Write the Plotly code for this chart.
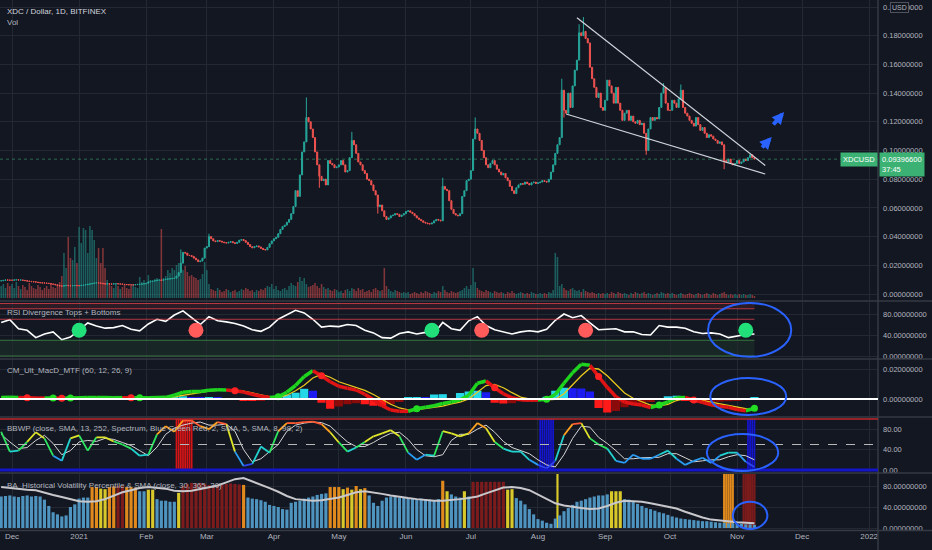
import pandas as pd
import plotly.graph_objects as go

# ---------------------------------------------------------------- data
# daily XDC/USD closes from 2020-11-26
start_day = "2020-11-26"
closes = [
    0.0092, 0.0095, 0.0098, 0.0097, 0.0096,  # Nov 26-30
    # Dec
    0.0096, 0.0098, 0.0099, 0.0097, 0.0098, 0.0095, 0.0093, 0.0090, 0.0088, 0.0086,
    0.0085, 0.0083, 0.0080, 0.0078, 0.0077, 0.0076, 0.0075, 0.0073, 0.0070, 0.0068,
    0.0064, 0.0060, 0.0056, 0.0055, 0.0058, 0.0060, 0.0058, 0.0057, 0.0058, 0.0059, 0.0058,
    # Jan
    0.0058, 0.0060, 0.0062, 0.0065, 0.0068, 0.0070, 0.0073, 0.0076, 0.0078, 0.0077,
    0.0075, 0.0072, 0.0070, 0.0071, 0.0070, 0.0069, 0.0071, 0.0072, 0.0070, 0.0070,
    0.0068, 0.0066, 0.0065, 0.0064, 0.0063, 0.0063, 0.0065, 0.0067, 0.0068, 0.0070, 0.0071,
    # Feb
    0.0075, 0.0084, 0.0088, 0.0090, 0.0093, 0.0096, 0.0098, 0.0095, 0.0101, 0.0103,
    0.0105, 0.0106, 0.0108, 0.0110, 0.0125, 0.0150, 0.0215, 0.0290, 0.0285, 0.0270,
    0.0268, 0.0262, 0.0250, 0.0238, 0.0225, 0.0230, 0.0250, 0.0320,
    # Mar
    0.0330, 0.0400, 0.0385, 0.0370, 0.0365, 0.0372, 0.0368, 0.0362, 0.0358, 0.0355,
    0.0360, 0.0365, 0.0358, 0.0352, 0.0360, 0.0375, 0.0380, 0.0372, 0.0360, 0.0345,
    0.0330, 0.0322, 0.0330, 0.0335, 0.0328, 0.0318, 0.0310, 0.0307, 0.0325, 0.0350, 0.0370,
    # Apr
    0.0385, 0.0395, 0.0420, 0.0450, 0.0470, 0.0480, 0.0500, 0.0520, 0.0560, 0.0610,
    0.0720, 0.0680, 0.0830, 0.0990, 0.1060, 0.1230, 0.1200, 0.1150, 0.1090, 0.0990,
    0.0900, 0.0820, 0.0790, 0.0800, 0.0760, 0.0930, 0.0910, 0.0900, 0.0880, 0.0885,
    # May
    0.0900, 0.0930, 0.0900, 0.0850, 0.0860, 0.0950, 0.1070, 0.1040, 0.0980, 0.0920,
    0.0900, 0.0860, 0.0840, 0.0800, 0.0790, 0.0760, 0.0720, 0.0690, 0.0610, 0.0620,
    0.0580, 0.0540, 0.0520, 0.0530, 0.0545, 0.0550, 0.0560, 0.0555, 0.0540, 0.0550, 0.0560,
    # Jun
    0.0575, 0.0580, 0.0570, 0.0560, 0.0545, 0.0530, 0.0520, 0.0510, 0.0500, 0.0495,
    0.0490, 0.0488, 0.0495, 0.0510, 0.0520, 0.0515, 0.0510, 0.0750, 0.0730, 0.0720,
    0.0650, 0.0590, 0.0560, 0.0550, 0.0545, 0.0560, 0.0680, 0.0720, 0.0790, 0.0800,
    # Jul
    0.0860, 0.1080, 0.1150, 0.1120, 0.1070, 0.1000, 0.0950, 0.0900, 0.0880, 0.0910,
    0.0930, 0.0900, 0.0870, 0.0850, 0.0830, 0.0840, 0.0810, 0.0790, 0.0750, 0.0720,
    0.0700, 0.0740, 0.0760, 0.0770, 0.0765, 0.0780, 0.0770, 0.0760, 0.0775, 0.0780, 0.0770,
    # Aug
    0.0775, 0.0780, 0.0790, 0.0785, 0.0780, 0.0800, 0.0850, 0.0900, 0.0980, 0.1040,
    0.1090, 0.1420, 0.1280, 0.1260, 0.1400, 0.1300, 0.1450, 0.1560, 0.1630, 0.1820,
    0.1800, 0.1830, 0.1780, 0.1750, 0.1580, 0.1500, 0.1440, 0.1370, 0.1400, 0.1300, 0.1280,
    # Sep
    0.1350, 0.1490, 0.1450, 0.1400, 0.1330, 0.1440, 0.1330, 0.1280, 0.1210, 0.1260,
    0.1280, 0.1210, 0.1240, 0.1200, 0.1190, 0.1210, 0.1180, 0.1190, 0.1120, 0.1000,
    0.1150, 0.1230, 0.1210, 0.1230, 0.1220, 0.1300, 0.1400, 0.1440, 0.1330, 0.1280,
    # Oct
    0.1280, 0.1350, 0.1330, 0.1300, 0.1360, 0.1420, 0.1300, 0.1260, 0.1240, 0.1210,
    0.1190, 0.1170, 0.1230, 0.1180, 0.1140, 0.1160, 0.1120, 0.1090, 0.1110, 0.1100,
    0.1080, 0.1070, 0.1050, 0.1060, 0.1040, 0.0930, 0.0920, 0.0940, 0.0910, 0.0900, 0.0910,
    # Nov
    0.0930, 0.0910, 0.0920, 0.0940, 0.0930, 0.0950, 0.0970, 0.0950, 0.0940,
]
wick_highs = {"2021-02-17": 0.031, "2021-03-02": 0.042, "2021-04-16": 0.137,
              "2021-05-07": 0.113, "2021-06-18": 0.081, "2021-07-03": 0.123,
              "2021-08-12": 0.150, "2021-08-20": 0.188, "2021-08-22": 0.193,
              "2021-09-28": 0.147, "2021-10-06": 0.146}
wick_lows = {"2021-04-22": 0.074, "2021-05-19": 0.056, "2021-08-13": 0.123,
             "2021-09-20": 0.097, "2021-10-26": 0.087}

# daily volume (millions, rough)
volumes = [
    12, 14, 10, 15, 12,
    14, 10, 16, 12, 9, 13, 11, 8, 15, 12, 10, 9, 13, 11, 8, 10, 12, 9, 14, 11,
    10, 13, 16, 22, 45, 30, 61, 40, 38, 51, 35,
    71, 55, 70, 68, 45, 72, 68, 58, 40, 50, 35, 50, 30, 18, 15, 12, 10, 14, 12, 9,
    11, 13, 10, 9, 12, 14, 11, 10, 21, 16, 18,
    15, 23, 18, 16, 19, 20, 17, 69, 20, 22, 28, 25, 30, 28, 33, 35, 30, 28, 32, 26,
    22, 23, 21, 20, 18, 19, 24, 36,
    28, 14, 9, 8, 7, 10, 8, 6, 7, 9, 8, 6, 7, 8, 6, 7, 9, 8, 10, 9,
    7, 8, 6, 8, 7, 9, 8, 10, 12, 11, 14,
    9, 12, 8, 7, 9, 10, 8, 12, 15, 13, 12, 16, 21, 17, 20, 14, 11, 12, 13, 15,
    12, 10, 14, 11, 9, 10, 8, 7, 9, 8,
    6, 7, 5, 8, 9, 7, 10, 9, 7, 10, 8, 9, 6, 7, 8, 6, 9, 10, 8, 7,
    8, 30, 12, 9, 7, 6, 8, 7, 6, 5, 6,
    5, 6, 4, 5, 6, 5, 4, 6, 5, 7, 6, 5, 4, 6, 5, 7, 6, 12, 8, 6,
    5, 7, 6, 5, 6, 7, 8, 10, 12, 9,
    13, 30, 16, 10, 8, 7, 6, 8, 7, 6, 5, 7, 6, 5, 6, 5, 4, 6, 5, 7,
    5, 4, 5, 6, 5, 4, 5, 4, 6, 5, 4,
    4, 5, 4, 5, 4, 6, 5, 8, 45, 41, 12, 14, 10, 8, 7, 9, 10, 8, 7, 8,
    6, 9, 7, 6, 5, 6, 5, 4, 5, 4, 5,
    4, 5, 4, 6, 5, 4, 6, 5, 4, 5, 4, 3, 5, 4, 6, 5, 4, 5, 6, 4,
    5, 4, 3, 4, 5, 4, 6, 5, 4, 5,
    4, 5, 4, 3, 4, 5, 4, 3, 4, 5, 4, 3, 4, 5, 4, 3, 4, 5, 4, 3,
    5, 4, 3, 4, 5, 6, 4, 3, 4, 3, 4,
    3, 4, 3, 4, 3, 3, 4, 3, 2,
]
last_price = 0.093966
countdown = "37:45"

# indicator readings, one every 4 days from 2020-11-26
ind_start = "2020-11-26"
rsi = [64, 69, 52, 49, 35, 42, 46, 31, 36, 49, 63, 57, 53, 54, 58, 51, 48, 61, 70, 66,
       78, 86, 73, 60, 75, 67, 65, 62, 57, 50, 47, 55, 70, 79, 87, 82, 70, 55, 57, 56,
       60, 58, 49, 44, 35, 34, 43, 46, 42, 45, 43, 64, 52, 49, 67, 75, 58, 50, 46, 42,
       46, 48, 46, 51, 68, 80, 73, 77, 63, 50, 51, 52, 46, 46, 41, 40, 58, 55, 55, 53,
       46, 43, 44, 42, 35, 38, 41, 42]
div_dates = ["2021-01-01", "2021-02-24", "2021-06-13", "2021-07-06", "2021-08-23", "2021-11-05"]
div_kind = ["bull", "bear", "bull", "bear", "bear", "bull"]
div_level = 49

macd = [0.0010, 0.0011, 0.0010, 0.0008, 0.0006, 0.0006, 0.0007, 0.0005, 0.0006, 0.0008,
        0.0010, 0.0010, 0.0010, 0.0009, 0.0009, 0.0008, 0.0008, 0.0009, 0.0010, 0.0011,
        0.0025, 0.0045, 0.0050, 0.0050, 0.0058, 0.0062, 0.0060, 0.0055, 0.0046, 0.0032,
        0.0018, 0.0010, 0.0015, 0.0045, 0.0090, 0.0150, 0.0188, 0.0155, 0.0115, 0.0085,
        0.0072, 0.0060, 0.0032, -0.0005, -0.0045, -0.0073, -0.0082, -0.0082, -0.0065, -0.0055,
        -0.0045, -0.0030, -0.0020, -0.0005, 0.0025, 0.0105, 0.0120, 0.0075, 0.0035, 0.0008,
        -0.0005, -0.0008, -0.0007, -0.0002, 0.0030, 0.0105, 0.0175, 0.0232, 0.0225, 0.0150,
        0.0078, 0.0015, -0.0020, -0.0033, -0.0040, -0.0057, -0.0040, -0.0020, 0.0008, 0.0010,
        -0.0007, -0.0022, -0.0038, -0.0048, -0.0055, -0.0070, -0.0078, -0.0062]
macd_signal = [0.0008, 0.0009, 0.0009, 0.0009, 0.0008, 0.0007, 0.0007, 0.0006, 0.0006, 0.0006,
               0.0007, 0.0008, 0.0009, 0.0009, 0.0009, 0.0009, 0.0008, 0.0008, 0.0009, 0.0010,
               0.0015, 0.0025, 0.0036, 0.0045, 0.0053, 0.0058, 0.0060, 0.0058, 0.0052, 0.0042,
               0.0028, 0.0016, 0.0010, 0.0025, 0.0055, 0.0092, 0.0140, 0.0165, 0.0145, 0.0115,
               0.0095, 0.0078, 0.0058, 0.0030, -0.0005, -0.0035, -0.0060, -0.0072, -0.0070, -0.0064,
               -0.0057, -0.0048, -0.0032, -0.0020, 0.0000, 0.0045, 0.0090, 0.0098, 0.0075, 0.0042,
               0.0012, 0.0000, -0.0005, -0.0005, -0.0002, 0.0035, 0.0095, 0.0155, 0.0205, 0.0200,
               0.0155, 0.0095, 0.0040, 0.0005, -0.0018, -0.0040, -0.0045, -0.0035, -0.0010, 0.0002,
               0.0001, -0.0010, -0.0023, -0.0033, -0.0042, -0.0053, -0.0065, -0.0070]
macd_hist = [0.0003, 0.0003, 0.0002, -0.0002, -0.0002, -0.0001, 0.0001, -0.0001, 0.0001, 0.0003,
             0.0004, 0.0002, 0.0001, 0.0000, 0.0000, -0.0001, 0.0000, 0.0001, 0.0002, 0.0004,
             0.0012, 0.0018, 0.0013, 0.0008, 0.0010, 0.0007, 0.0002, -0.0004, -0.0008, -0.0012,
             -0.0010, -0.0004, 0.0015, 0.0030, 0.0042, 0.0068, 0.0055, -0.0025, -0.0065, -0.0050,
             -0.0035, -0.0028, -0.0035, -0.0045, -0.0048, -0.0035, -0.0020, 0.0008, 0.0012, 0.0010,
             0.0030, 0.0032, -0.0006, 0.0040, 0.0050, 0.0055, 0.0045, -0.0025, -0.0030, -0.0028,
             -0.0015, -0.0008, 0.0002, 0.0015, 0.0055, 0.0075, 0.0072, 0.0070, 0.0050, -0.0060,
             -0.0090, -0.0080, -0.0055, -0.0035, -0.0030, -0.0020, 0.0004, 0.0018, 0.0022, -0.0008,
             -0.0020, -0.0022, -0.0020, -0.0018, -0.0015, -0.0012, 0.0004, 0.0010]

bbwp = [75, 36, 38, 55, 74, 62, 28, 18, 62, 68, 38, 64, 64, 56, 50, 42, 28, 30, 70, 86,
        75, 97, 97, 86, 80, 94, 90, 36, 8, 12, 46, 34, 76, 92, 92, 94, 95, 90, 74, 54,
        36, 44, 55, 66, 72, 78, 66, 34, 20, 30, 28, 76, 72, 66, 72, 92, 82, 55, 42, 36,
        36, 20, 10, 3, 18, 68, 90, 92, 62, 50, 42, 18, 14, 30, 22, 22, 30, 38, 22, 10,
        18, 24, 14, 28, 34, 34, 16, 6]
bbwp_ma = [70, 55, 42, 44, 58, 68, 52, 30, 38, 55, 58, 56, 62, 60, 54, 48, 38, 28, 45, 70,
           82, 88, 92, 94, 88, 88, 90, 76, 40, 16, 22, 36, 50, 76, 88, 92, 94, 93, 86, 70,
           55, 46, 46, 54, 64, 72, 74, 60, 40, 28, 26, 30, 58, 70, 70, 80, 88, 74, 56, 44,
           38, 32, 20, 10, 6, 30, 62, 86, 84, 64, 52, 38, 22, 22, 24, 24, 25, 32, 32, 24,
           16, 18, 20, 20, 26, 30, 28, 20]
bbwp_high_spans = [("2021-02-15", "2021-02-22")]
bbwp_low_spans = [("2021-08-02", "2021-08-08"), ("2021-11-06", "2021-11-09")]

hvp_ma = [78, 76, 74, 73, 72, 67, 63, 59, 55, 51, 50, 51, 55, 62, 68, 72, 76, 78, 77, 75,
          71, 70, 71, 74, 78, 81, 87, 93, 95, 89, 82, 76, 69, 61, 55, 53, 52, 53, 55, 58,
          63, 68, 70, 68, 65, 62, 59, 57, 55, 53, 52, 52, 53, 55, 57, 60, 66, 72, 77, 78,
          76, 72, 64, 55, 47, 43, 40, 38, 36, 37, 42, 48, 52, 51, 50, 47, 44, 41, 37, 31,
          25, 20, 16, 14, 12, 11, 10, 9]

# historical volatility percentile, one bar every 2 days from 2020-11-26
hvp_start = "2020-11-26"
hvp = [60, 61, 62, 60, 59, 61, 62, 60, 61, 60, 54, 42, 30, 26, 22, 24, 40, 45, 56, 58,
       58, 78, 78, 75, 74, 78, 79, 80, 80, 78, 78, 77, 70, 70, 73, 73, 55, 52, 52, 50,
       50, 67, 80, 84, 86, 85, 86, 84, 82, 80, 80, 82, 84, 85, 84, 83, 82, 58, 56, 55,
       53, 50, 44, 42, 40, 36, 35, 48, 50, 52, 56, 58, 60, 63, 65, 66, 78, 78, 78, 74,
       77, 73, 80, 74, 76, 62, 48, 42, 52, 58, 60, 60, 58, 58, 57, 56, 55, 56, 55, 54,
       53, 55, 90, 70, 64, 60, 58, 70, 60, 88, 88, 88, 88, 88, 88, 88, 88, 73, 74, 57,
       52, 45, 36, 26, 17, 14, 10, 8, 18, 24, 32, 38, 44, 50, 52, 55, 58, 60, 62, 62,
       64, 70, 70, 70, 55, 54, 50, 46, 42, 38, 36, 33, 30, 28, 25, 22, 20, 18, 17, 16,
       15, 14, 13, 13, 12, 11, 10, 10, 9, 9, 8, 8, 7, 7, 6]
hvp_level_runs = [("low", 21), ("high", 2), ("mid", 2), ("high", 2), ("top", 2), ("high", 3),
                  ("low", 2), ("mid", 2), ("low", 5), ("mid", 1), ("top", 14), ("high", 1),
                  ("low", 19), ("high", 3), ("mid", 1), ("high", 1), ("mid", 1), ("high", 1),
                  ("mid", 1), ("high", 1), ("low", 17), ("high", 1), ("mid", 1), ("low", 3),
                  ("mid", 1), ("low", 1), ("top", 8), ("mid", 2), ("low", 22), ("mid", 3),
                  ("low", 31)]
hvp_flags = [("2021-08-10", "2021-08-10", "mid"), ("2021-10-26", "2021-10-30", "high"),
             ("2021-11-04", "2021-11-09", "top")]

# hand-drawn wedge lines on the price pane
wedge_upper = (["2021-08-19", "2021-11-14"], [0.1925, 0.0895])
wedge_lower = (["2021-08-14", "2021-11-14"], [0.1254, 0.0836])

month_ticks = pd.date_range("2020-12-01", "2022-01-01", freq="MS")
month_text = ["Dec", "2021", "Feb", "Mar", "Apr", "May", "Jun", "Jul", "Aug", "Sep",
              "Oct", "Nov", "Dec", "2022"]

# ---------------------------------------------------------------- style
W, H = 932, 550
PLOT_R = 878
BG = "#131722"
GRID = "#242833"
SEP = "#363a45"
TXT = "#b2b5be"
FONT = "Liberation Sans"
UP, DN = "#26a69a", "#ef5350"
BLUE = "#2962ff"
GREEN = "#3bb273"
DAY = 86400000
x_range = ["2020-11-25 11:00", "2022-01-05 02:00"]


def py(px):
    return 1 - px / H


def rng(px_top, px_bot, px_zero, ppu):
    return [(px_zero - px_bot) / ppu, (px_zero - px_top) / ppu]


r_main = rng(0, 300, 294, 1435)
r_vol = rng(0, 300, 298, 1.0)
r_rsi = rng(302, 358, 356, 0.525)
r_macd = rng(360, 416, 399, 1500)
r_bbwp = rng(418, 472, 470, 0.51)
r_hvp = rng(474, 530, 528, 0.525)

days = pd.date_range(start_day, periods=len(closes), freq="D")
opens = [closes[0]] + closes[:-1]
highs = [max(o, c) for o, c in zip(opens, closes)]
lows = [min(o, c) for o, c in zip(opens, closes)]
for d, v in wick_highs.items():
    i = days.get_loc(pd.Timestamp(d))
    highs[i] = max(highs[i], v)
for d, v in wick_lows.items():
    i = days.get_loc(pd.Timestamp(d))
    lows[i] = min(lows[i], v)

ind_x = pd.date_range(ind_start, periods=len(rsi), freq="4D")
hvp_x = pd.date_range(hvp_start, periods=len(hvp), freq="2D")

fig = go.Figure()

# volume (base axis, so candles sit above it)
vol_cols = ["rgba(38,166,154,0.5)" if c >= o else "rgba(239,83,80,0.5)"
            for o, c in zip(opens, closes)]
fig.add_trace(go.Bar(x=days, y=volumes, marker=dict(color=vol_cols, line=dict(width=0)),
                     width=0.72 * DAY, xaxis="x", yaxis="y", hoverinfo="skip"))

fig.add_trace(go.Candlestick(
    x=days, open=opens, high=highs, low=lows, close=closes,
    increasing=dict(line=dict(color=UP, width=1), fillcolor=UP),
    decreasing=dict(line=dict(color=DN, width=1), fillcolor=DN),
    whiskerwidth=0, xaxis="x", yaxis="y6", hoverinfo="skip"))

# RSI pane
fig.add_trace(go.Scatter(x=ind_x, y=rsi, mode="lines", line=dict(color="#ffffff", width=1.6),
                         xaxis="x2", yaxis="y2", hoverinfo="skip"))
fig.add_trace(go.Scatter(
    x=div_dates, y=[div_level] * len(div_dates), mode="markers",
    marker=dict(size=15, color=["#21e07a" if k == "bull" else "#ff5b5b" for k in div_kind]),
    xaxis="x2", yaxis="y2", hoverinfo="skip"))


def segments(xs, ys, keys):
    out = {}
    for i in range(1, len(xs)):
        sx, sy = out.setdefault(keys[i], ([], []))
        sx += [xs[i - 1], xs[i], None]
        sy += [ys[i - 1], ys[i], None]
    return out


# MACD pane
hist_cols = []
for i, h in enumerate(macd_hist):
    prev = macd_hist[i - 1] if i else 0
    if h >= 0:
        hist_cols.append("#26d7e8" if h >= prev else "#1c1cf0")
    else:
        hist_cols.append("#ff1a1a" if h < prev else "#8b0a0a")
fig.add_trace(go.Bar(x=ind_x, y=macd_hist, marker=dict(color=hist_cols, line=dict(width=0)),
                     width=3.8 * DAY, xaxis="x3", yaxis="y3", hoverinfo="skip"))
fig.add_trace(go.Scatter(x=ind_x, y=macd_signal, mode="lines", line=dict(color="#e8c81e", width=1.3),
                         xaxis="x3", yaxis="y3", hoverinfo="skip"))
state = ["up" if m >= s else "dn" for m, s in zip(macd, macd_signal)]
for k, (sx, sy) in segments(list(ind_x), macd, state).items():
    fig.add_trace(go.Scatter(x=sx, y=sy, mode="lines",
                             line=dict(color="#1ed41e" if k == "up" else "#e01414", width=3.5),
                             xaxis="x3", yaxis="y3", hoverinfo="skip"))
cross = [i for i in range(1, len(state)) if state[i] != state[i - 1]]
fig.add_trace(go.Scatter(
    x=[ind_x[i] for i in cross], y=[macd[i] for i in cross], mode="markers",
    marker=dict(size=7, color=["#22dd22" if state[i] == "up" else "#ff2222" for i in cross]),
    xaxis="x3", yaxis="y3", hoverinfo="skip"))

# BBWP pane
for spans, col in ((bbwp_high_spans, "rgba(235,20,20,0.9)"), (bbwp_low_spans, "rgba(20,20,225,0.9)")):
    bx = [d for a, b in spans for d in pd.date_range(a, b, freq="D")]
    fig.add_trace(go.Bar(x=bx, y=[100] * len(bx), marker=dict(color=col, line=dict(width=0)),
                         width=0.8 * DAY, xaxis="x4", yaxis="y4", hoverinfo="skip"))
fig.add_trace(go.Scatter(x=ind_x, y=bbwp_ma, mode="lines", line=dict(color="#d6d6d6", width=1),
                         xaxis="x4", yaxis="y4", hoverinfo="skip"))


def spectrum(v):
    if v < 12:
        return "#2d46f0"
    if v < 28:
        return "#2a9df4"
    if v < 44:
        return "#22d3cf"
    if v < 60:
        return "#2ee860"
    if v < 78:
        return "#dfe52b"
    if v < 90:
        return "#ffa21f"
    return "#ff5a33"


bins = ["#"] + [spectrum((bbwp[i - 1] + bbwp[i]) / 2) for i in range(1, len(bbwp))]
for col, (sx, sy) in segments(list(ind_x), bbwp, bins).items():
    fig.add_trace(go.Scatter(x=sx, y=sy, mode="lines", line=dict(color=col, width=1.8),
                             xaxis="x4", yaxis="y4", hoverinfo="skip"))

# HVP pane
level_col = {"low": "#4f93bf", "mid": "#d9c82a", "high": "#e0891c", "top": "#7c1b1b"}
levels = [lv for lv, n in hvp_level_runs for _ in range(n)]
fx, fc = [], []
for a, b, lv in hvp_flags:
    for d in pd.date_range(a, b, freq="D"):
        fx.append(d)
        fc.append(level_col[lv])
fig.add_trace(go.Bar(x=fx, y=[r_hvp[1]] * len(fx), marker=dict(color=fc, line=dict(width=0)),
                     width=1.0 * DAY, xaxis="x5", yaxis="y5", hoverinfo="skip"))
fig.add_trace(go.Bar(x=hvp_x, y=hvp, marker=dict(color=[level_col[l] for l in levels], line=dict(width=0)),
                     width=1.45 * DAY, xaxis="x5", yaxis="y5", hoverinfo="skip"))
fig.add_trace(go.Scatter(x=ind_x, y=hvp_ma, mode="lines", line=dict(color="#c8c8cc", width=2),
                         xaxis="x5", yaxis="y5", hoverinfo="skip"))

# ---------------------------------------------------------------- layout
tick_font = dict(family=FONT, size=7.5, color=TXT)
xbase = dict(type="date", range=x_range, domain=[0, PLOT_R / W], tickvals=month_ticks,
             ticktext=month_text, showgrid=True, gridcolor=GRID, zeroline=False,
             showticklabels=False, showline=False, ticks="", automargin=False,
             tickfont=dict(family=FONT, size=8, color=TXT))
ybase = dict(side="right", showgrid=True, gridcolor=GRID, zeroline=False, showline=False,
             ticks="", automargin=False, tickfont=tick_font, ticklabelstandoff=4)

layout = dict(
    width=W, height=H, template="none", paper_bgcolor=BG, plot_bgcolor=BG,
    margin=dict(l=0, r=0, t=0, b=0), showlegend=False, barmode="overlay",
    font=dict(family=FONT, color=TXT),
    xaxis=dict(xbase, anchor="y", rangeslider=dict(visible=False)),
    yaxis=dict(domain=[py(300), 1], range=r_vol, visible=False, fixedrange=True),
    yaxis6=dict(ybase, overlaying="y", anchor="x", range=r_main,
                tickvals=[i * 0.02 for i in range(11)], tickformat=".8f"),
    yaxis2=dict(ybase, anchor="x2", domain=[py(358), py(302)], range=r_rsi,
                tickvals=[0, 40, 80], tickformat=".8f"),
    yaxis3=dict(ybase, anchor="x3", domain=[py(416), py(360)], range=r_macd,
                tickvals=[0, 0.02], tickformat=".8f"),
    yaxis4=dict(ybase, anchor="x4", domain=[py(472), py(418)], range=r_bbwp,
                tickvals=[0, 40, 80], tickformat=".2f", ticksuffix="%"),
    yaxis5=dict(ybase, anchor="x5", domain=[py(530), py(474)], range=r_hvp,
                tickvals=[0, 40, 80], tickformat=".8f"),
)
for n in range(2, 6):
    layout[f"xaxis{n}"] = dict(xbase, anchor=f"y{n}", matches="x", showticklabels=(n == 5))
fig.update_layout(**layout)

shapes = []
xr = PLOT_R / W
# pane separators and price-scale border
for px in (301, 359, 417, 473, 530.5):
    shapes.append(dict(type="line", xref="paper", yref="paper", x0=0, x1=1, y0=py(px), y1=py(px),
                       line=dict(color=SEP, width=1.5)))
shapes.append(dict(type="line", xref="paper", yref="paper", x0=xr, x1=xr, y0=0, y1=1,
                   line=dict(color=SEP, width=1.5)))
# last price line
shapes.append(dict(type="line", xref="paper", yref="y6", x0=0, x1=xr, y0=last_price, y1=last_price,
                   line=dict(color="rgba(59,178,115,0.55)", width=1, dash="dot")))
# wedge
for xs, ys in (wedge_upper, wedge_lower):
    shapes.append(dict(type="line", xref="x", yref="y6", x0=xs[0], x1=xs[1], y0=ys[0], y1=ys[1],
                       line=dict(color="#d1d4dc", width=1.2)))
# RSI bands
end = days[-1]
shapes.append(dict(type="rect", xref="x2", yref="y2", x0=x_range[0], x1=end, y0=90, y1=100,
                   fillcolor="rgba(242,54,69,0.12)", line=dict(width=0), layer="below"))
shapes.append(dict(type="rect", xref="x2", yref="y2", x0=x_range[0], x1=end, y0=0, y1=30,
                   fillcolor="rgba(76,175,80,0.10)", line=dict(width=0), layer="below"))
for lvl, col in ((100, "rgba(242,70,80,0.7)"), (90, "rgba(242,70,80,0.7)"), (70, "rgba(242,70,80,0.7)"),
                 (30, "rgba(76,175,80,0.6)"), (0, "rgba(76,175,80,0.6)")):
    shapes.append(dict(type="line", xref="x2", yref="y2", x0=x_range[0], x1=end, y0=lvl, y1=lvl,
                       line=dict(color=col, width=1)))
# MACD zero line
shapes.append(dict(type="line", xref="paper", yref="y3", x0=0, x1=xr, y0=0, y1=0,
                   line=dict(color="#ffffff", width=2)))
# BBWP guide lines
shapes.append(dict(type="line", xref="paper", yref="y4", x0=0, x1=xr, y0=100, y1=100,
                   line=dict(color="#c0282d", width=1.5)))
shapes.append(dict(type="line", xref="paper", yref="y4", x0=0, x1=xr, y0=50, y1=50,
                   line=dict(color="#b8b8b8", width=1, dash="dash")))
shapes.append(dict(type="line", xref="paper", yref="y4", x0=0, x1=xr, y0=0, y1=0,
                   line=dict(color="#1414c8", width=3)))
# hand-drawn circles (kept inside their panes)
for xa, ya, x0, x1, y0, y1 in (
        ("x2", "y2", "2021-10-18 14:00", "2021-11-26", -1.5, 101),
        ("x3", "y3", "2021-10-19 14:00", "2021-11-23 17:00", -0.0106, 0.014),
        ("x4", "y4", "2021-10-18", "2021-11-20", -1.8, 70.6),
        ("x5", "y5", "2021-10-30", "2021-11-15", -1.8, 50)):
    shapes.append(dict(type="circle", xref=xa, yref=ya, x0=x0, x1=x1, y0=y0, y1=y1,
                       line=dict(color=BLUE, width=2)))
fig.update_layout(shapes=shapes)

ann = []
for text, px, col in (("XDC / Dollar, 1D, BITFINEX", 11, "#d1d4dc"), ("Vol", 22, TXT),
                      ("RSI Divergence Tops + Bottoms", 312, TXT),
                      ("CM_Ult_MacD_MTF (60, 12, 26, 9)", 370, TXT),
                      ("BBWP (close, SMA, 13, 252, Spectrum, Blue Green Red, 2, SMA, 5, SMA, 8, 98, 2)", 428, TXT),
                      ("BA_Historical Volatility Percentile & SMA (close, 30, 365, 30)", 485, TXT)):
    ann.append(dict(text=text, xref="paper", yref="paper", x=5 / W, y=py(px), xanchor="left",
                    yanchor="middle", showarrow=False, font=dict(family=FONT, size=8, color=col)))
ann.append(dict(text="XDCUSD", xref="paper", yref="y6", x=xr, y=last_price, xanchor="right",
                yanchor="middle", showarrow=False, bgcolor=GREEN, borderpad=2,
                font=dict(family=FONT, size=7.5, color="#ffffff")))
ann.append(dict(text=f"{last_price:.8f}<br>{countdown}", xref="paper", yref="y6", x=xr + 1 / W,
                y=last_price, yshift=7, xanchor="left", yanchor="top", align="left", showarrow=False,
                bgcolor=GREEN, borderpad=2, font=dict(family=FONT, size=7.5, color="#ffffff")))
ann.append(dict(text="USD", xref="paper", yref="paper", x=899 / W, y=py(8), xanchor="center",
                yanchor="middle", showarrow=False, bgcolor=BG, bordercolor="#50535e", borderwidth=1,
                borderpad=1, font=dict(family=FONT, size=7, color=TXT)))
for hx, hy, ax, ay in (("2021-11-22 17:00", 0.1268, -12, 14), ("2021-11-17", 0.1094, -11, 12)):
    ann.append(dict(text="", xref="x", yref="y6", x=hx, y=hy, ax=ax, ay=ay, showarrow=True,
                    arrowhead=2, arrowsize=0.6, arrowwidth=4, arrowcolor=BLUE))
fig.update_layout(annotations=ann)

fig.write_html("out.html", config={"displayModeBar": False},
               post_script="document.body.style.margin='0';"
                           "document.body.style.background='#131722';")
